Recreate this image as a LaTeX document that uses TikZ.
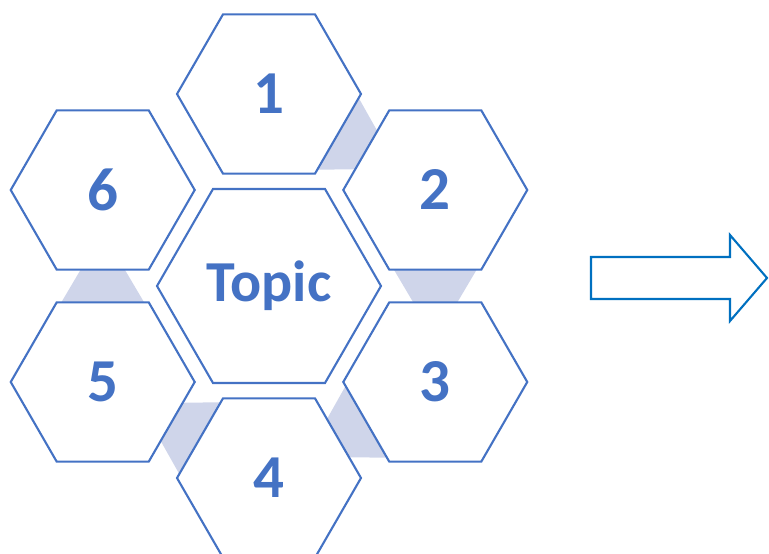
\documentclass[tikz,border=0pt]{standalone}
\usepackage{fontspec}
\setmainfont{Carlito}
\usepackage{tikz}
\usetikzlibrary{calc, shapes.geometric, backgrounds}
\definecolor{hexblue}{HTML}{4472C4}
\definecolor{linkfill}{HTML}{CFD5EA}
\definecolor{arrowblue}{HTML}{0070C0}
\tikzstyle{basefont}=[font=\bfseries\fontsize{61}{61}\selectfont]
\tikzstyle{hexagon}=[basefont, regular polygon, regular polygon sides=6, draw=hexblue, line width=2.1pt, fill=white, text=hexblue, inner sep=0pt, outer sep=0pt, minimum size=184pt]
\tikzstyle{topic}=[hexagon, minimum size=224pt, font=\bfseries\fontsize{58}{58}\selectfont]
\tikzstyle{link}=[fill=linkfill]
\tikzstyle{blockarrow}=[draw=arrowblue, line width=2.1pt, line join=miter]

\begin{document}
\begin{tikzpicture}[x=1pt, y=1pt]
        \useasboundingbox (0,0) rectangle (769,554);

        % Central hexagon
        \node[topic] (topic) at (269,268) {Topic};

        % Ring of numbered hexagons, clockwise from the top
        \foreach \i in {1,...,6}{
            \pgfmathtruncatemacro\hexangle{150-60*\i}
            \node[hexagon] (hex\i) at ($(topic)+(\hexangle:192)$) {\i};
        }

        % Shaded links between neighbours,
        % the wide side lies on the earlier hexagon
        \begin{scope}[on background layer]
            \foreach \a/\b/\pa/\qa/\pb/\qb in {
                1/2/0/300/120/180,
                2/3/300/240/60/120,
                3/4/240/180/0/60,
                4/5/180/120/300/0,
                5/6/120/60/240/300
            }{
                \fill[link] ($(hex\a.\pa)!0.05!(hex\a.\qa)$)
                    -- ($(hex\a.\pa)!0.95!(hex\a.\qa)$)
                    -- ($(hex\b.\pb)!0.74!(hex\b.\qb)$)
                    -- ($(hex\b.\pb)!0.26!(hex\b.\qb)$) -- cycle;
            }
        \end{scope}

        % Block arrow to the right
        \draw[blockarrow] (591,255) -- (730,255) -- (730,233) -- (767,276)
            -- (730,319) -- (730,297) -- (591,297) -- cycle;
\end{tikzpicture}
\end{document}
